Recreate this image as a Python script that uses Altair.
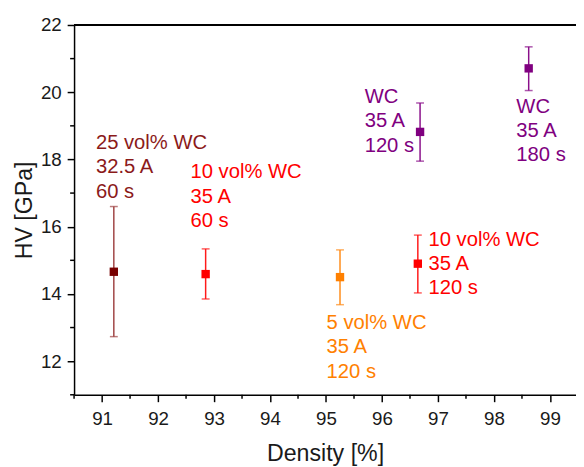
import altair as alt
import pandas as pd

# Measured data
density = [91.21, 92.85, 95.25, 96.64, 96.68, 98.62]
hv = [14.66, 14.59, 14.50, 14.90, 18.82, 20.71]
hv_hi = [16.60, 15.34, 15.31, 15.75, 19.68, 21.35]
hv_lo = [12.73, 13.85, 13.68, 14.03, 17.95, 20.05]
marker_colors = ["#780000", "#ff0000", "#ff8000", "#ff0000", "#800080", "#800080"]
bar_colors = ["#a04545", "#ff1a1a", "#ff8c1a", "#ff1a1a", "#8a108a", "#8a108a"]

# Annotations (anchor of the first line, in data units)
label_x = [90.89, 92.58, 95.01, 96.83, 95.69, 98.40]
label_y = [18.49, 17.61, 13.13, 15.61, 19.86, 19.57]
label_text = [
    "25 vol% WC\n32.5 A\n60 s",
    "10 vol% WC\n35 A\n60 s",
    "5 vol% WC\n35 A\n120 s",
    "10 vol% WC\n35 A\n120 s",
    "WC\n35 A\n120 s",
    "WC\n35 A\n180 s",
]
label_colors = ["#8b1a1a", "#ff0000", "#ff8000", "#ff0000", "#800080", "#800080"]

x_major = [91, 92, 93, 94, 95, 96, 97, 98, 99]
x_minor = [90.5, 91.5, 92.5, 93.5, 94.5, 95.5, 96.5, 97.5, 98.5]
y_major = [12, 14, 16, 18, 20, 22]
y_minor = [11, 13, 15, 17, 19, 21]

W, H = 509, 375
FONT = "Liberation Sans"

pts = pd.DataFrame({"x": density, "y": hv, "hi": hv_hi, "lo": hv_lo,
                    "mc": marker_colors, "bc": bar_colors})
labels = pd.DataFrame({"x": label_x, "y": label_y, "t": label_text, "c": label_colors})
xmin_df = pd.DataFrame({"x": x_minor})
ymin_df = pd.DataFrame({"y": y_minor})

xscale = alt.Scale(domain=[90.5, 99.465], nice=False, zero=False)
yscale = alt.Scale(domain=[11, 22], nice=False, zero=False)

xaxis = alt.Axis(values=x_major, format="d", title="Density [%]", tickSize=7,
                 labelPadding=8, labelFontSize=19, titleFontSize=23.5,
                 labelOverlap=False, titlePadding=14, grid=False)
yaxis = alt.Axis(values=y_major, format="d", title="HV [GPa]", tickSize=7,
                 labelPadding=6, labelFontSize=19, titleFontSize=23.5,
                 labelOverlap=False, titlePadding=4, grid=False)

base = alt.Chart(pts)

bars = base.mark_rule(strokeWidth=1.5).encode(
    x=alt.X("x:Q", scale=xscale, axis=xaxis),
    y=alt.Y("lo:Q", scale=yscale, axis=yaxis),
    y2="hi:Q",
    color=alt.Color("bc:N", scale=None),
)
cap_hi = base.mark_tick(orient="horizontal", size=8, thickness=1.5).encode(
    x="x:Q", y="hi:Q", color=alt.Color("bc:N", scale=None))
cap_lo = base.mark_tick(orient="horizontal", size=8, thickness=1.5).encode(
    x="x:Q", y="lo:Q", color=alt.Color("bc:N", scale=None))
marks = base.mark_square(size=72, opacity=1).encode(
    x="x:Q", y="y:Q", color=alt.Color("mc:N", scale=None))

text = alt.Chart(labels).mark_text(
    align="left", baseline="middle", fontSize=20.5, lineHeight=24.7,
    lineBreak="\n", font=FONT).encode(
    x="x:Q", y="y:Q", text="t:N", color=alt.Color("c:N", scale=None))

xminor = alt.Chart(xmin_df).mark_rule(color="black", strokeWidth=1.5).encode(
    x="x:Q", y=alt.value(H), y2=alt.value(H + 4))
yminor = alt.Chart(ymin_df).mark_rule(color="black", strokeWidth=1.5).encode(
    y="y:Q", x=alt.value(0), x2=alt.value(-4))

top = alt.Chart(pts).mark_rule(color="black", strokeWidth=1.5).encode(
    x=alt.value(0), x2=alt.value(W), y=alt.value(0))

chart = alt.layer(bars, cap_hi, cap_lo, marks, text, xminor, yminor, top).properties(
    width=W, height=H,
    autosize=alt.AutoSizeParams(type="none"),
    padding={"left": 67, "top": 14, "right": 0, "bottom": 70},
).configure_view(stroke=None).configure_axis(
    domainColor="black", domainWidth=1.5, tickColor="black", tickWidth=1.5,
    labelColor="#1a1a1a", titleColor="#1a1a1a", labelFont=FONT, titleFont=FONT,
    titleFontWeight="normal",
)

chart.save("out.html", embed_options={"renderer": "svg", "actions": False})
